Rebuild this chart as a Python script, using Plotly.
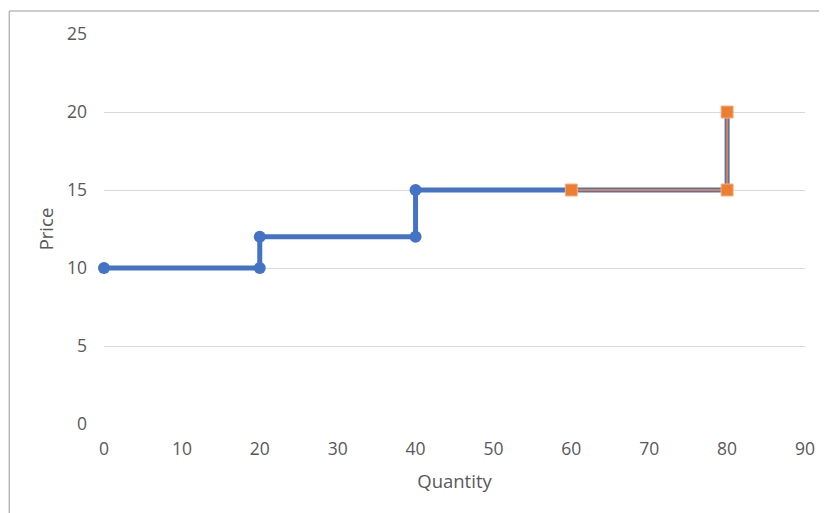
import plotly.graph_objects as go

blue_x = [0, 20, 20, 40, 40, 80, 80]
blue_y = [10, 10, 12, 12, 15, 15, 20]
orange_x = [60, 80, 80]
orange_y = [15, 15, 20]

x_ticks = [0, 10, 20, 30, 40, 50, 60, 70, 80, 90]
y_ticks = [0, 5, 10, 15, 20, 25]

fig = go.Figure()
fig.add_trace(go.Scatter(x=blue_x, y=blue_y, mode="lines+markers",
                         line=dict(color="#4472C4", width=5),
                         marker=dict(symbol="circle", size=12, color="#4472C4"),
                         showlegend=False))
fig.add_trace(go.Scatter(x=orange_x, y=orange_y, mode="lines+markers",
                         line=dict(color="#ED7D31", width=2),
                         marker=dict(symbol="square", size=12, color="#ED7D31",
                                     line=dict(color="#F4B183", width=1)),
                         showlegend=False))

font = dict(family="Open Sans, DejaVu Sans, sans-serif", size=17.5, color="#595959")
fig.update_layout(
    width=819, height=505,
    margin=dict(l=96, r=13, t=26, b=89),
    plot_bgcolor="white", paper_bgcolor="white",
    font=font,
    xaxis=dict(range=[0, 90], tickvals=x_ticks, showgrid=False, zeroline=False,
               showline=False, ticks="", ticklabelstandoff=12,
               tickfont=dict(size=17.5, color="#595959"),
               title=dict(text="Quantity", font=dict(size=18.5, color="#595959"), standoff=16)),
    yaxis=dict(range=[0, 25], tickvals=y_ticks, showgrid=True, gridcolor="#D9D9D9",
               gridwidth=1.3, zeroline=False, showline=False, ticks="",
               ticklabelstandoff=16, tickfont=dict(size=17.5, color="#595959"),
               title=dict(text="Price", font=dict(size=18.5, color="#595959"), standoff=8)),
    shapes=[dict(type="rect", xref="paper", yref="paper",
                 x0=(0 - 96) / 710, x1=2, y0=-2, y1=(416 - 3) / 390,
                 line=dict(color="#9A9A9A", width=1), fillcolor="rgba(0,0,0,0)",
                 layer="below")],
)
fig.update_traces(cliponaxis=False)
fig.write_html("out.html")
